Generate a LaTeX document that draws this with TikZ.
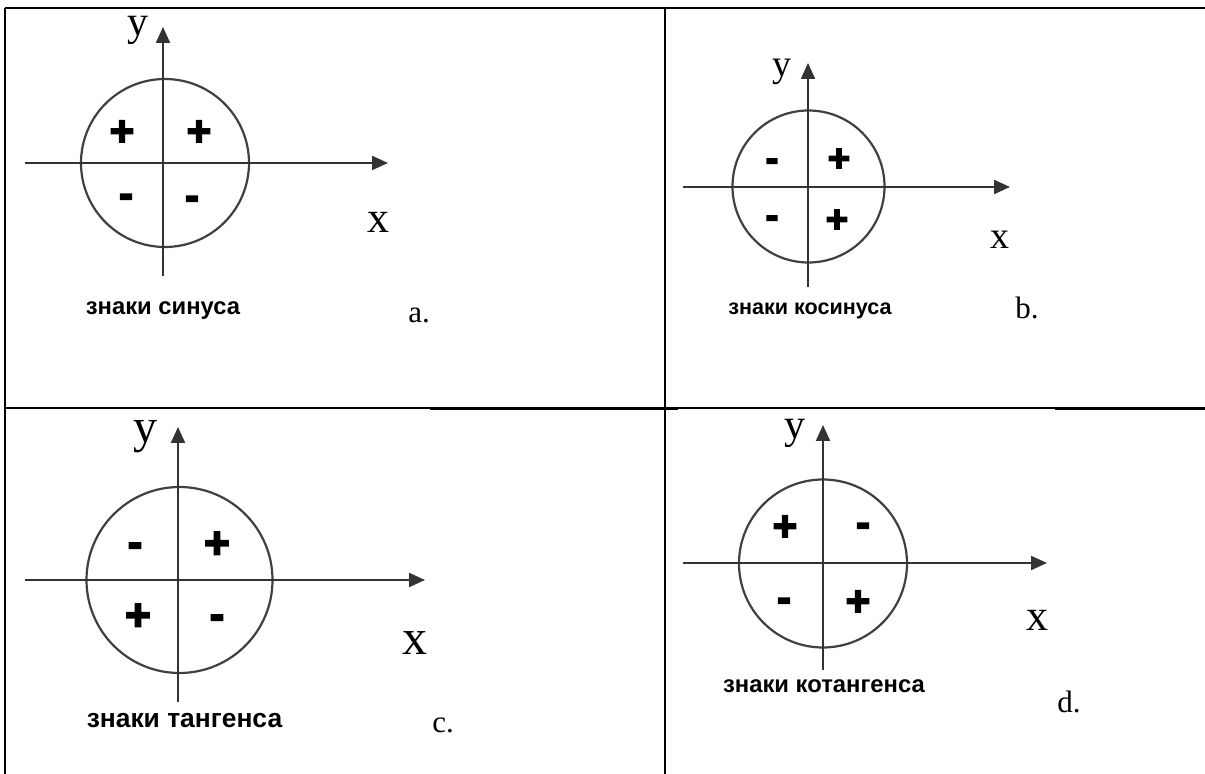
\documentclass[tikz,border=0pt]{standalone}
\usepackage{fontspec}
\setmainfont{Liberation Serif}
\setsansfont{Liberation Sans}
\newfontfamily\signfont[BoldFeatures={FakeBold=4}]{Liberation Sans}
\usetikzlibrary{arrows.meta}

\begin{document}
\begin{tikzpicture}[
  x=0.5pt, y=-0.5pt,
  rule/.style={line width=#1, draw=black},
  rule/.default=1pt,
  axis/.style={-{Triangle[length=8pt, width=7pt]}, line width=1.1pt, draw=black!80},
  rim/.style={line width=1.1pt, draw=black!75},
  letter/.style={font=\fontsize{#1}{#1}\selectfont, inner sep=0pt},
  sgn/.style={font=\signfont\bfseries\fontsize{#1}{#1}\selectfont, inner sep=0pt},
  minus/.style={sgn=#1, yshift=-2.5pt},
  caption/.style={font=\sffamily\bfseries\fontsize{#1}{#1}\selectfont, inner sep=0pt, anchor=base},
  tag/.style={font=\fontsize{15.5}{15.5}\selectfont, inner sep=0pt, anchor=base west}
]
\useasboundingbox (0,0) rectangle (1205,774);

\draw[rule] (5,8) -- (400,8);
\draw[rule=1.4pt] (400,8) -- (1205,8);
\draw[rule=1.2pt] (5,8) -- (5,774);
\draw[rule=1.2pt] (665,8) -- (665,774);
\draw[rule] (5,408) -- (430,408);
\draw[rule=1.5pt] (430,409) -- (678,409);
\draw[rule] (678,408) -- (1055,408);
\draw[rule=1.5pt] (1055,409) -- (1205,409);

% a
\draw[rim] (165,163) circle (84);
\draw[axis] (25,163) -- (388,163);
\draw[axis] (163,276) -- (163,27);
\node[letter=21] (ya) at (138,30) {y};
\node[letter=22] (xa) at (378,222) {x};
\node[sgn=21] (a1) at (199,133) {+};
\node[sgn=21] (a2) at (122,133) {+};
\node[minus=21] (a3) at (126,196) {-};
\node[minus=21] (a4) at (192,198) {-};
\node[caption=11.9] (capa) at (163,315) {знаки синуса};
\node[tag] (taga) at (408,323) {a.};

% b
\draw[rim] (808.5,186.5) circle (76);
\draw[axis] (683,187) -- (1010,187);
\draw[axis] (808,287) -- (808,63);
\node[letter=19] (yb) at (782,72) {y};
\node[letter=19] (xb) at (1000,240) {x};
\node[sgn=19] (b1) at (839,160) {+};
\node[minus=19] (b2) at (772,160) {-};
\node[minus=19] (b3) at (772,217) {-};
\node[sgn=19] (b4) at (837,221) {+};
\node[caption=10.8] (capb) at (810,315) {знаки косинуса};
\node[tag] (tagb) at (1015,319) {b.};

% c
\draw[rim] (179.5,580) circle (93);
\draw[axis] (25,580) -- (425,580);
\draw[axis] (178,702) -- (178,427);
\node[letter=24] (yc) at (145,437) {y};
\node[letter=25] (xc) at (415,643) {x};
\node[sgn=22] (c1) at (217,545) {+};
\node[minus=22] (c2) at (135,545) {-};
\node[sgn=22] (c3) at (138,617) {+};
\node[minus=22] (c4) at (217,617) {-};
\node[caption=13.2] (capc) at (184.5,727) {знаки тангенса};
\node[tag] (tagc) at (432,733) {c.};

% d
\draw[rim] (823,563.5) circle (84);
\draw[axis] (683,563) -- (1047,563);
\draw[axis] (823,670) -- (823,425);
\node[letter=21] (yd) at (795,433) {y};
\node[letter=22] (xd) at (1037,620) {x};
\node[minus=21] (d1) at (863,525) {-};
\node[sgn=21] (d2) at (785,528) {+};
\node[minus=21] (d3) at (784,600) {-};
\node[sgn=21] (d4) at (858,603) {+};
\node[caption=11.9] (capd) at (824,693) {знаки котангенса};
\node[tag] (tagd) at (1057,712) {d.};
\end{tikzpicture}
\end{document}
